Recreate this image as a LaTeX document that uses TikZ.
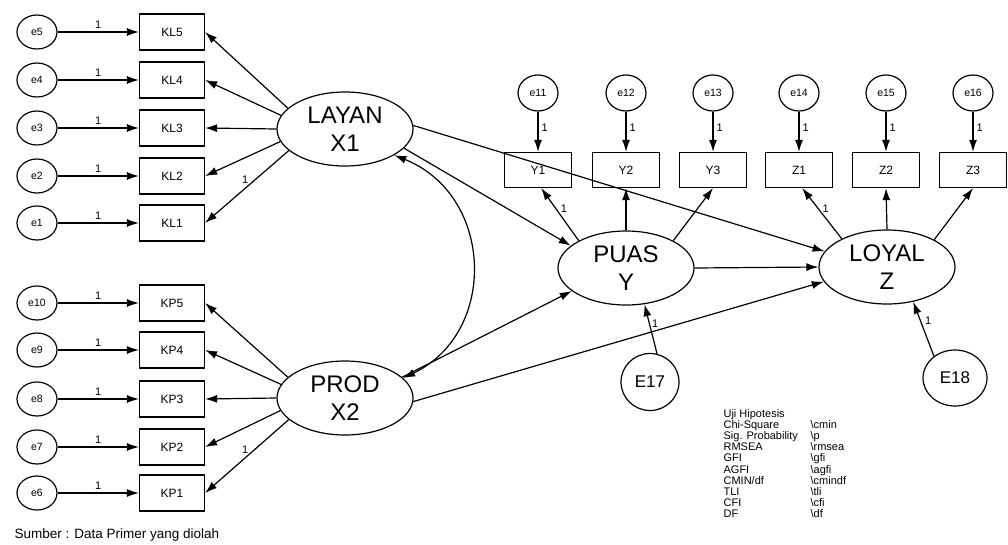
\documentclass[tikz,border=0pt]{standalone}
\usepackage{fontspec}
\setmainfont{Liberation Sans}
\usetikzlibrary{shapes.geometric,arrows.meta}
\begin{document}
\begin{tikzpicture}[x=1pt,y=-1pt,
  line width=1.2pt,
  err/.style={draw, ellipse, minimum width=40pt, minimum height=34pt, inner sep=0pt, font=\fontsize{10.5}{12}\selectfont},
  obs/.style={draw, rectangle, minimum width=65pt, minimum height=36pt, inner sep=0pt, font=\fontsize{12}{13}\selectfont},
  lat/.style={draw, ellipse, minimum width=136pt, minimum height=74pt, inner sep=0pt, align=center, font=\fontsize{24}{28}\selectfont},
  dis/.style={draw, ellipse, minimum width=58pt, minimum height=57pt, inner sep=0pt, font=\fontsize{17}{19}\selectfont},
  arr/.style={-{Latex[length=12pt,width=8pt]}},
  darr/.style={{Latex[length=12pt,width=8pt]}-{Latex[length=12pt,width=8pt]}},
  one/.style={font=\fontsize{11}{12}\selectfont, inner sep=1pt},
]
\useasboundingbox (0,0) rectangle (1008,544);

% left indicators of LAYAN
\foreach \n/\y in {5/32, 4/80, 3/128, 2/176, 1/223} {
  \node[err] (eKL\n) at (37,\y) {e\n};
  \node[obs] (KL\n) at (172,\y) {KL\n};
  \draw[arr] (eKL\n) -- node[one, above=2pt]{1} (KL\n);
}
% left indicators of PROD
\foreach \n/\y/\e in {5/303/10, 4/350/9, 3/399/8, 2/447/7, 1/493/6} {
  \node[err] (eKP\n) at (37,\y) {e\e};
  \node[obs] (KP\n) at (172,\y) {KP\n};
  \draw[arr] (eKP\n) -- node[one, above=2pt]{1} (KP\n);
}

% latent variables
\node[lat] (LAYAN) at (345,129) {LAYAN\\X1};
\node[lat] (PROD) at (345,398) {PROD\\X2};
\node[lat] (PUAS) at (626,268) {PUAS\\Y};
\node[lat] (LOYAL) at (887,267) {LOYAL\\Z};

% top indicators
\foreach \b/\x/\e in {Y1/538/11, Y2/626/12, Y3/713/13, Z1/799/14, Z2/886/15, Z3/973/16} {
  \node[err, minimum height=36pt] (e\b) at (\x,93) {e\e};
  \node[obs, minimum width=67pt, minimum height=35pt] (\b) at (\x,170) {\b};
  \draw[arr] (e\b) -- node[one, pos=0.4, right=2pt]{1} (\b);
}

% disturbances
\node[dis] (E17) at (650,382) {E17};
\node[dis, minimum width=64pt, minimum height=56pt] (E18) at (955,378) {E18};

% loadings LAYAN
\draw[arr] (LAYAN.160) -- (KL5.east);
\draw[arr] (LAYAN.168) -- (KL4.east);
\draw[arr] (LAYAN.180) -- (KL3.east);
\draw[arr] (LAYAN.191) -- (KL2.east);
\draw[arr] (LAYAN.201) -- node[one, pos=0.52, above=3pt]{1} (KL1.east);
% loadings PROD
\draw[arr] (PROD.160) -- (KP5.east);
\draw[arr] (PROD.168) -- (KP4.east);
\draw[arr] (PROD.180) -- (KP3.east);
\draw[arr] (PROD.191) -- (KP2.east);
\draw[arr] (PROD.201) -- node[one, pos=0.52, above=3pt]{1} (KP1.east);
% loadings PUAS / LOYAL
\draw[arr] (PUAS.150) -- node[one, pos=0.6, right=3pt]{1} (Y1.-80);
\draw[arr] (PUAS.north) -- (Y2.south);
\draw[arr] (PUAS.30) -- (Y3.south);
\draw[arr] (LOYAL.148) -- node[one, pos=0.6, right=3pt]{1} (Z1.-80);
\draw[arr] (LOYAL.north) -- (Z2.south);
\draw[arr] (LOYAL.30) -- (Z3.south);

% structural paths
\draw[arr] (LAYAN.-18) -- (PUAS.158);
\draw[arr] (LAYAN.3) -- (LOYAL.166);
\draw[arr] (PROD.20) -- (PUAS.203);
\draw[arr] (PROD.-3) -- (LOYAL.193);
\draw[arr] (PUAS.east) -- (LOYAL.west);
\draw[darr] (LAYAN.-28) .. controls +(100,40) and +(95,-45) .. (PROD.19);

% disturbance paths
\draw[arr] (E17.76) -- node[one, pos=0.6, right=1pt]{1} (PUAS.-63);
\draw[arr] (E18.134) -- node[one, pos=0.65, right=3pt]{1} (LOYAL.-53);

% legend
\node[anchor=north west, inner sep=0pt, font=\fontsize{11}{10.4}\selectfont] (legend) at (723,409) {%
\begin{tabular}{@{}p{87pt}@{}l@{}}
Uji Hipotesis & \\
Chi-Square & \textbackslash cmin\\
Sig. Probability & \textbackslash p\\
RMSEA & \textbackslash rmsea\\
GFI & \textbackslash gfi\\
AGFI & \textbackslash agfi\\
CMIN/df & \textbackslash cmindf\\
TLI & \textbackslash tli\\
CFI & \textbackslash cfi\\
DF & \textbackslash df
\end{tabular}};

% source
\node[anchor=base west, inner sep=0pt, font=\fontsize{13.5}{15}\selectfont] (src) at (14,538) {Sumber : Data Primer yang diolah};
\end{tikzpicture}
\end{document}
